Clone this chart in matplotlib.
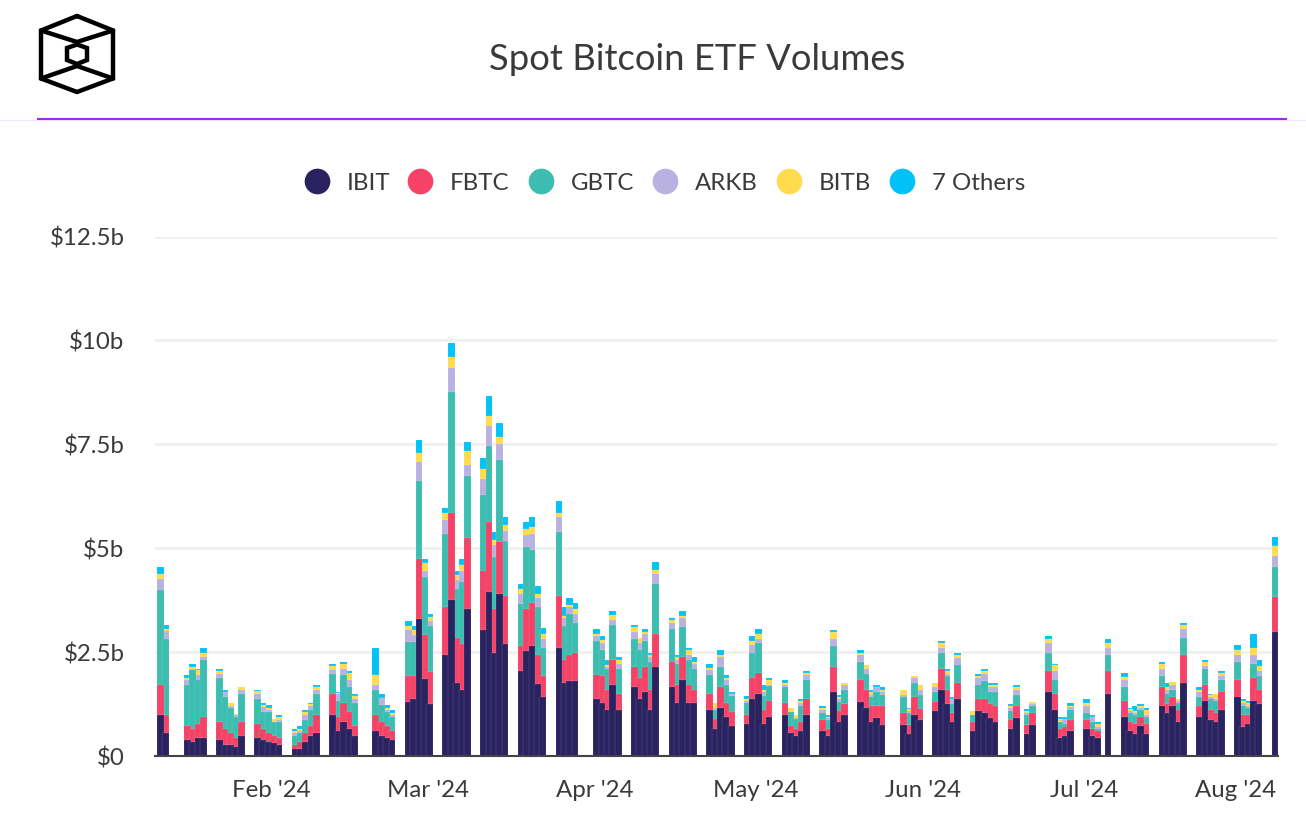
import numpy as np
import pandas as pd
import matplotlib
matplotlib.use("Agg")
import matplotlib.pyplot as plt
import matplotlib.dates as mdates
from matplotlib.transforms import ScaledTranslation

# stacked tops per series in $b, one row per trading week
ibit = [.99,.55, .39,.33,.43,.43, .39,.27,.27,.21,.49, .44,.39,.33,.31,.26, .16,.16,.33,.49,.55,
    .99,.6,.82,.66,.49, .6,.49,.44,.39, 1.30,1.37,3.3,1.86,1.26, 2.42,3.75,1.76,1.58,3.53,
    3.03,3.95,2.47,3.91,2.69, 2.04,2.52,2.64,1.74,1.42, 2.59,1.76,1.8,1.81, 1.38,1.27,1.11,1.72,1.11,
    1.66,1.38,1.55,1.11,2.15, 1.66,1.27,1.82,1.27,1.27, 1.11,.65,1.15,.94,.71, .77,1.38,1.49,.77,.94,
    .99,.55,.49,.6,.99, .59,.48,1.54,.81,.98, 1.31,1.15,.81,.92,.75, .75,.53,.98,.87,
    1.09,1.59,1.25,.81,1.37, .59,1.09,1.04,.92,.81, .64,.92,.53,.75, 1.54,1.1,.43,.48,.59,
    .65,.49,.43,1.49, .93,.6,.54,.71,.54, 1.21,1.04,1.21,.82,1.76, .94,1.32,.87,.82,1.1,
    1.43,.7,.76,1.32,1.26, 2.98]
fbtc_top = [1.72,.99, .73,.65,.77,.94, .82,.66,.55,.44,.83, .77,.66,.55,.49,.44, .27,.33,.55,.73,.99,
    1.49,.94,1.27,1.05,.73, .99,.83,.71,.6, 1.92,1.92,4.74,2.91,2.03, 3.58,5.84,2.85,2.69,5.24,
    4.46,5.64,3.53,5.14,3.86, 2.64,3.53,3.69,2.42,1.93, 3.86,2.31,2.43,2.48, 1.94,1.92,1.6,2.32,1.49,
    2.15,1.88,2.15,1.6,2.93, 2.27,1.72,2.38,1.72,1.6, 1.49,.89,1.66,1.27,1.05, .99,1.88,1.99,1.1,1.32,
    1.27,.71,.65,.82,1.38, .86,.64,2.15,1.09,1.25, 1.82,1.59,1.2,1.2,1.2, 1.03,.75,1.42,1.14,
    1.31,2.1,1.59,1.04,1.76, .81,1.37,1.37,1.25,1.2, .87,1.2,.75,1.03, 2.04,1.5,.65,.7,.87,
    .87,.65,.6,2.05, 1.32,.82,.77,.94,.77, 1.65,1.26,1.43,1.1,2.44, 1.21,1.72,1.1,1.04,1.55,
    1.82,.99,.99,1.88,1.59, 3.83]
gbtc_top = [3.99,2.82, 1.72,2.06,1.82,2.32, 1.88,1.42,1.15,.93,1.5, 1.38,1.05,1.05,.83,.83, .49,.55,.87,1.1,1.49,
    1.98,1.32,1.94,1.66,1.27, 1.6,1.22,1.06,.94, 2.75,2.75,6.62,4.3,3.13, 5.34,8.77,4.02,4.18,6.73,
    6.29,7.45,4.78,7.13,5.18, 3.67,5.02,4.96,3.58,2.59, 5.4,3.13,3.42,3.19, 2.77,2.54,2.1,3.15,2.1,
    2.82,2.54,2.77,2.27,4.15, 3.05,2.21,3.1,2.32,2.1, 1.94,1.11,2.15,1.71,1.44, 1.27,2.48,2.71,1.44,1.68,
    1.66,1.05,.88,1.21,1.82, 1.03,.87,2.65,1.31,1.59, 2.27,1.97,1.42,1.54,1.48, 1.42,1.03,1.76,1.48,
    1.54,2.48,1.93,1.25,2.2, .98,1.71,1.81,1.54,1.54, 1.09,1.48,.98,1.2, 2.48,1.82,.82,.77,1.11,
    1.04,.82,.65,2.44, 1.66,1.04,.99,1.1,.94, 1.93,1.49,1.59,1.27,2.83, 1.43,2.1,1.38,1.32,1.82,
    2.27,1.21,1.16,2.21,1.93, 4.55]
arkb_top = [4.26,3.0, 1.82,2.1,1.94,2.38, 1.98,1.53,1.21,.99,1.6, 1.5,1.19,1.11,.83,.87, .55,.6,.99,1.21,1.6,
    2.06,1.49,2.1,1.82,1.38, 1.72,1.4,1.1,.98, 3.03,2.91,7.07,4.46,3.25, 5.68,9.33,4.24,4.46,7.01,
    6.67,7.95,5.08,7.52,5.41, 3.91,5.31,5.35,3.81,2.81, 5.74,3.31,3.59,3.42, 2.89,2.73,2.13,3.27,2.22,
    2.99,2.71,2.93,2.38,4.38, 3.21,2.32,3.32,2.44,2.22, 2.06,1.15,2.38,1.82,1.49, 1.32,2.66,2.82,1.55,1.72,
    1.71,1.05,.91,1.27,1.94, 1.1,.91,2.82,1.37,1.71, 2.44,2.1,1.48,1.65,1.54, 1.48,1.08,1.87,1.59,
    1.65,2.6,1.98,1.37,2.37, .98,1.87,1.98,1.65,1.65, 1.15,1.59,1.03,1.26, 2.71,2.05,.82,.88,1.17,
    1.21,.94,.7,2.6, 1.83,1.08,1.04,1.16,.99, 2.1,1.59,1.72,1.32,3.05, 1.55,2.16,1.43,1.38,1.93,
    2.44,1.27,1.21,2.44,2.05, 4.82]
bitb_top = [4.38,3.05, 1.88,2.15,2.06,2.48, 2.05,1.55,1.27,1.0,1.66, 1.56,1.22,1.16,.89,.94, .6,.65,1.05,1.26,1.66,
    2.16,1.52,2.22,2.0,1.44, 1.94,1.4,1.15,1.03, 3.14,3.03,7.29,4.64,3.35, 5.84,9.6,4.36,4.59,7.34,
    6.91,8.18,5.19,7.68,5.56, 4.03,5.46,5.52,3.91,2.93, 5.84,3.37,3.64,3.53, 2.93,2.78,2.18,3.39,2.32,
    3.1,2.83,2.98,2.43,4.48, 3.27,2.38,3.38,2.54,2.27, 2.11,1.27,2.44,1.88,1.49, 1.38,2.77,2.93,1.6,1.82,
    1.76,1.15,.99,1.32,2.0, 1.15,.94,2.98,1.42,1.76, 2.49,2.2,1.54,1.65,1.59, 1.59,1.12,1.93,1.7,
    1.76,2.71,2.04,1.37,2.43, 1.09,1.93,2.04,1.7,1.7, 1.2,1.65,1.09,1.3, 2.82,2.18,.88,.9,1.21,
    1.27,.94,.77,2.72, 1.89,1.13,1.09,1.21,1.1, 2.22,1.66,1.77,1.38,3.16, 1.6,2.27,1.46,1.49,1.99,
    2.55,1.32,1.27,2.6,2.16, 5.05]
others_top = [4.54,3.15, 1.94,2.21,2.1,2.6, 2.1,1.6,1.28,1.01,1.66, 1.6,1.27,1.22,.9,.99, .65,.71,1.1,1.27,1.72,
    2.21,1.55,2.27,2.05,1.49, 2.6,1.49,1.22,1.1, 3.25,3.14,7.61,4.73,3.41, 5.96,9.94,4.46,4.73,7.56,
    7.17,8.67,5.4,8.01,5.74, 4.13,5.63,5.74,4.08,3.09, 6.13,3.58,3.81,3.69, 3.05,2.88,2.32,3.49,2.38,
    3.15,2.85,3.05,2.48,4.66, 3.32,2.43,3.49,2.6,2.38, 2.21,1.27,2.55,1.94,1.55, 1.44,2.88,3.05,1.71,1.88,
    1.82,1.15,.99,1.38,2.05, 1.2,.98,3.04,1.47,1.76, 2.55,2.2,1.59,1.71,1.65, 1.59,1.15,1.93,1.7,
    1.76,2.77,2.1,1.42,2.48, 1.09,1.98,2.1,1.76,1.76, 1.25,1.7,1.14,1.31, 2.89,2.22,.93,.93,1.27,
    1.38,.99,.82,2.82, 1.99,1.15,1.2,1.26,1.15, 2.27,1.76,1.78,1.38,3.21, 1.65,2.32,1.49,1.49,2.05,
    2.66,1.38,1.32,2.94,2.32, 5.27]

holidays = ["2024-01-15", "2024-02-19", "2024-03-29", "2024-05-27", "2024-06-19", "2024-07-04"]
series_names = ["IBIT", "FBTC", "GBTC", "ARKB", "BITB", "7 Others"]
colors = ["#2b2360", "#f44366", "#3dbdb0", "#b9b2e0", "#ffdb4d", "#00c2f7"]
y_ticks = [0, 2.5, 5, 7.5, 10, 12.5]
y_labels = ["$0", "$2.5b", "$5b", "$7.5b", "$10b", "$12.5b"]
month_ticks = ["2024-02-01", "2024-03-01", "2024-04-01", "2024-05-01", "2024-06-01", "2024-07-01", "2024-08-01"]
month_labels = ["Feb '24", "Mar '24", "Apr '24", "May '24", "Jun '24", "Jul '24", "Aug '24"]

plt.rcParams['font.family'] = ['Lato', 'DejaVu Sans']
W, H = 1306, 814
TEXT = "#3a3a3a"

days = pd.bdate_range("2024-01-11", "2024-08-05").drop(pd.to_datetime(holidays))
tops = np.array([ibit, fbtc_top, gbtc_top, arkb_top, bitb_top, others_top])
bottoms = np.vstack([np.zeros(len(days)), tops[:-1]])

fig = plt.figure(figsize=(W / 100, H / 100), dpi=100)

# page furniture in pixel coordinates
bg = fig.add_axes([0, 0, 1, 1])
bg.set_xlim(0, W)
bg.set_ylim(H, 0)
bg.axis('off')

bg.text(697, 59.5, "Spot Bitcoin ETF Volumes", fontsize=26.2, color=TEXT, ha='center', va='center')
bg.plot([0, W], [119.5, 119.5], color="#f3e3fb", lw=0.8)
bg.plot([37, 1287], [118.5, 118.5], color="#a526f0", lw=1.5, solid_capstyle='butt')

# logo
logo = dict(color="black", lw=3.2, solid_joinstyle='miter', solid_capstyle='round')
hex_x = [77, 113, 113, 77, 41, 41, 77]
hex_y = [16, 30.5, 78.5, 92, 78.5, 30.5, 16]
bg.plot(hex_x, hex_y, **logo)
bg.plot([41, 77, 113], [30.5, 42, 30.5], **logo)
bg.plot([41, 77, 113], [78.5, 66, 78.5], **logo)
bg.plot([77, 87, 87, 77, 67, 67, 77], [44.5, 48, 60, 64, 60, 48, 44.5], **logo)

# legend
legend_dots = [317, 420, 541, 665, 789, 902]
for name, c, lx in zip(series_names, colors, legend_dots):
    bg.plot([lx], [181], 'o', ms=18.5, color=c, mew=0)
    bg.text(lx + 30, 183.5, name, fontsize=17.3, color=TEXT, ha='left', va='center')

# chart
x0 = mdates.date2num(days[0])
px_per_day = 5.384
ax = fig.add_axes([155 / W, 1 - 756 / H, (1278 - 155) / W, 519.4 / H])
ax.patch.set_alpha(0)
ax.set_xlim(x0 - 5.5 / px_per_day, x0 + (1278 - 160.5) / px_per_day)
ax.set_ylim(0, 12.5)
for i in range(5, -1, -1):
    ax.bar(days, tops[i] - bottoms[i], bottom=bottoms[i], width=1.26, color=colors[i],
           edgecolor=(1, 1, 1, 0.25), linewidth=0.3, zorder=3 + (5 - i) * 0.1)

ax.set_yticks(y_ticks, y_labels)
ax.set_xticks(pd.to_datetime(month_ticks), month_labels)
ax.grid(axis='y', color="#f0f0f0", lw=2, zorder=0)
ax.set_axisbelow(True)
for s in ['top', 'right', 'left']:
    ax.spines[s].set_visible(False)
ax.spines['bottom'].set_color("#444444")
ax.spines['bottom'].set_linewidth(1.5)
ax.spines['bottom'].set_zorder(5)
ax.tick_params(axis='both', length=0, labelsize=17.3, labelcolor=TEXT)
ax.tick_params(axis='y', pad=22)
ax.tick_params(axis='x', pad=17)

# labels sit a little left of their ticks, the last one is pulled in to stay inside the plot
labels = ax.get_xticklabels()
for lab in labels[:-1]:
    lab.set_transform(lab.get_transform() + ScaledTranslation(-2 / 100, 0, fig.dpi_scale_trans))
labels[-1].set_transform(labels[-1].get_transform() + ScaledTranslation(-18 / 100, 0, fig.dpi_scale_trans))

fig.savefig("out.png", dpi=100)
